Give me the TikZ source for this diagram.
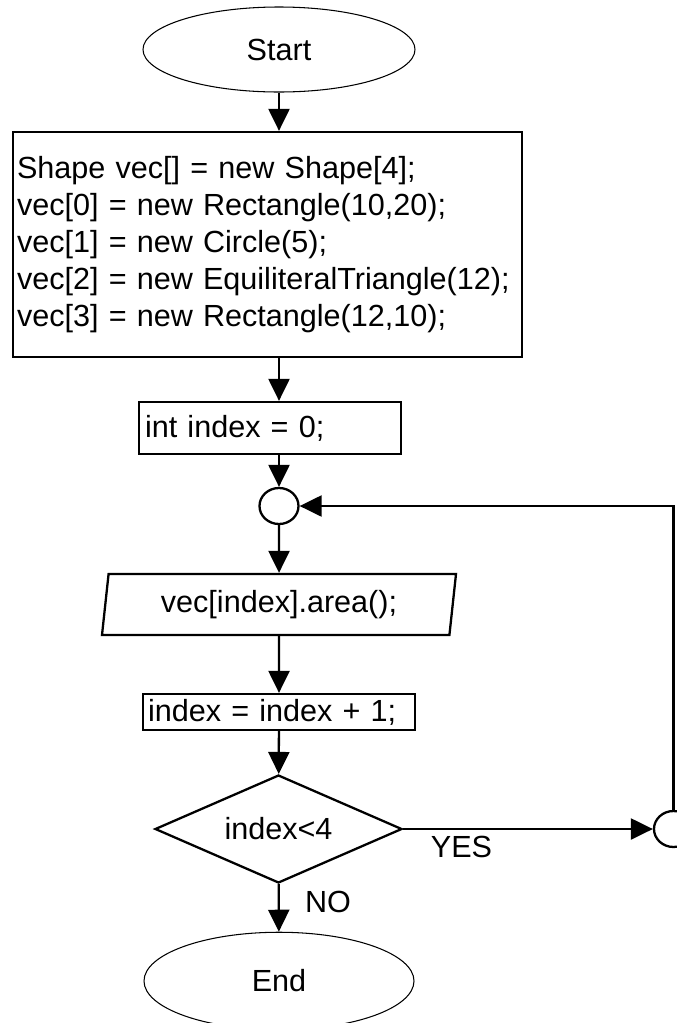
\documentclass[tikz,border=0pt]{standalone}
\usepackage{fontspec}
\setmainfont{Liberation Sans}
\usetikzlibrary{shapes.geometric,arrows.meta}

\tikzset{
    term/.style={ellipse, draw, line width=0.6pt, inner sep=0pt},
    proc/.style={rectangle, draw, align=left, inner ysep=0pt},
    io/.style={trapezium, draw, trapezium left angle=77, trapezium right angle=103,
        trapezium stretches body, inner sep=0pt},
    decision/.style={diamond, draw, inner sep=0pt},
    joint/.style={ellipse, draw, inner sep=0pt, minimum width=0.78cm, minimum height=0.72cm},
    lbl/.style={inner sep=0pt}
}

\begin{document}
\begin{tikzpicture}[>={Triangle[length=4.4mm, width=4.2mm]}, line width=1.3pt,
        font=\fontsize{17.4}{21}\selectfont]
    \useasboundingbox (0,0) rectangle (13.54,-20.46);

    % Start
    \node[term, minimum width=5.44cm, minimum height=1.7cm] (start) at (5.58,-0.99) {Start};

    % Array set-up
    \node[proc, text width=10.02cm, inner xsep=0.08cm, minimum height=4.5cm] (code) at (5.35,-4.89) {%
        Shape vec[] = new Shape[4];\\
        vec[0] = new Rectangle(10,20);\\
        vec[1] = new Circle(5);\\
        vec[2] = new EquiliteralTriangle(12);\\
        vec[3] = new Rectangle(12,10);};

    % Counter
    \node[proc, text width=5.0cm, inner xsep=0.12cm, minimum height=1.04cm] (init) at (5.40,-8.56) {int index = 0;};

    % Loop entry
    \node[joint] (join) at (5.58,-10.12) {};

    % Loop body
    \node[io, minimum width=7.08cm, minimum height=1.22cm] (output) at (5.58,-12.09) {vec[index].area();};
    \node[proc, text width=5.24cm, inner xsep=0.1cm, minimum height=0.72cm] (inc) at (5.58,-14.24) {index = index + 1;};

    % Test
    \node[decision, aspect=2.29, minimum width=4.94cm, minimum height=2.16cm] (test) at (5.57,-16.58) {index<4};
    \node[joint] (jump) at (13.47,-16.58) {};

    % End
    \node[term, minimum width=5.40cm, minimum height=1.95cm] (end) at (5.58,-19.62) {End};

    % Labels
    \node[lbl] (yes) at (9.23,-16.94) {YES};
    \node[lbl] (no) at (6.56,-18.03) {NO};

    % Arrows
    \draw[->] (start) -- (start |- code.north);
    \draw[->] (code.south -| start) -- (init.north -| start);
    \draw[->] (init.south -| start) -- (join);
    \draw[->] (join) -- (output);
    \draw[->] (output) -- (inc);
    \draw[->] (inc) -- (test);
    \draw[->] (test) -- (jump);
    \draw[->] (test) -- (end);
    \draw[->] (jump) |- (join);
\end{tikzpicture}
\end{document}
